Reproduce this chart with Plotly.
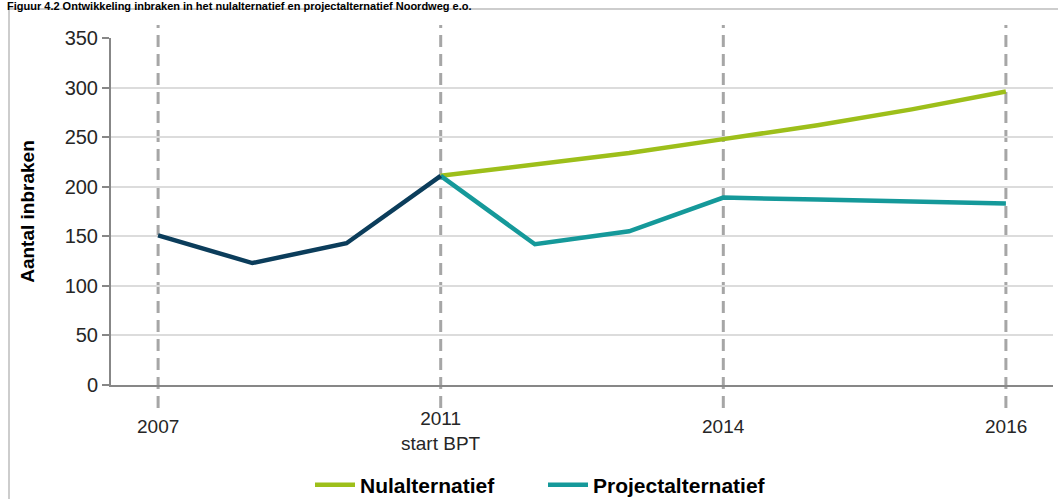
import plotly.graph_objects as go

# ---- data ----
categories = list(range(10))  # equally spaced category slots
tick_positions = [0, 3, 6, 9]
tick_labels = ["2007", "2011<br>start BPT", "2014", "2016"]

hist_x = [0, 1, 2, 3]
hist_values = [151, 123, 143, 211]

future_x = [3, 4, 5, 6, 7, 8, 9]
nul_values = [211, 222, 234, 248, 262, 278, 296]
project_values = [211, 142, 155, 189, 187, 185, 183]

y_ticks = [0, 50, 100, 150, 200, 250, 300, 350]

title_text = "Figuur 4.2 Ontwikkeling inbraken in het nulalternatief en projectalternatief Noordweg e.o."

# ---- styling ----
FONT = "Liberation Sans, Arial, sans-serif"
C_HIST = "#0b3d5b"
C_NUL = "#9dbf1a"
C_PROJ = "#15999a"

W, H = 1058, 499
PLOT_LEFT, PLOT_RIGHT = 111, 1053
PLOT_TOP, PLOT_BOTTOM = 38, 385
PLOT_W = PLOT_RIGHT - PLOT_LEFT
PLOT_H = PLOT_BOTTOM - PLOT_TOP


def py(px):
    """pixel row -> paper y"""
    return (PLOT_BOTTOM - px) / PLOT_H


def pxp(px):
    """pixel column -> paper x"""
    return (px - PLOT_LEFT) / PLOT_W


fig = go.Figure()

fig.add_trace(go.Scatter(x=future_x, y=nul_values, mode="lines", name="Nulalternatief",
                         line=dict(color=C_NUL, width=4.5)))
fig.add_trace(go.Scatter(x=future_x, y=project_values, mode="lines", name="Projectalternatief",
                         line=dict(color=C_PROJ, width=4.5)))
fig.add_trace(go.Scatter(x=hist_x, y=hist_values, mode="lines", name="Historie",
                         showlegend=False, line=dict(color=C_HIST, width=4.5)))

# dashed vertical markers at labelled years
for xv in tick_positions:
    fig.add_shape(type="line", xref="x", yref="paper", x0=xv, x1=xv,
                  y0=py(408), y1=py(25), layer="below",
                  line=dict(color="#a6a6a6", width=3, dash="12px,7px"))

# year labels under the axis (multi-line label centred like the reference)
for xv, lab in zip(tick_positions, tick_labels):
    fig.add_annotation(text=lab, xref="x", yref="paper", x=xv, y=py(431 if "<br>" in lab else 427),
                       xanchor="center", yanchor="middle", showarrow=False,
                       font=dict(family=FONT, size=19, color="#262626"))

# outer frame
fig.add_shape(type="rect", xref="paper", yref="paper", x0=pxp(9), x1=pxp(1070),
              y0=py(520), y1=py(9), line=dict(color="#bdbdbd", width=1.5),
              fillcolor="rgba(0,0,0,0)", layer="below")

fig.add_annotation(text="<b>" + title_text + "</b>", xref="paper", yref="paper",
                   x=pxp(5), y=py(-2), xanchor="left", yanchor="top",
                   showarrow=False, font=dict(family=FONT, size=11, color="#000000"))

fig.update_layout(
    width=W, height=H,
    margin=dict(l=PLOT_LEFT, r=W - PLOT_RIGHT, t=PLOT_TOP, b=H - PLOT_BOTTOM, autoexpand=False),
    paper_bgcolor="white", plot_bgcolor="white",
    font=dict(family=FONT, size=19, color="#262626"),
    showlegend=True,
    legend=dict(orientation="h", x=pxp(310), xanchor="left", y=py(485), yanchor="middle",
                font=dict(family=FONT, size=21, color="#000000", weight="bold"),
                itemwidth=40, entrywidth=178, traceorder="normal"),
    xaxis=dict(range=[-0.5, 9.5], tickmode="array", tickvals=tick_positions,
               showticklabels=False, showgrid=False, zeroline=False,
               showline=True, linecolor="#878787", linewidth=2, ticks=""),
    yaxis=dict(range=[0, 350], tickmode="array", tickvals=y_ticks,
               showgrid=True, gridcolor="#dcdcdc", gridwidth=1.5, zeroline=False,
               showline=True, linecolor="#878787", linewidth=2,
               ticks="outside", ticklen=7, tickcolor="#878787", tickwidth=1.5,
               tickfont=dict(family=FONT, size=20, color="#262626"),
               title=dict(text="<b>Aantal inbraken</b>", standoff=25,
                          font=dict(family=FONT, size=19, color="#000000"))),
)

fig.write_html("out.html", config={"displayModeBar": False},
               post_script="document.body.style.margin='0';")
